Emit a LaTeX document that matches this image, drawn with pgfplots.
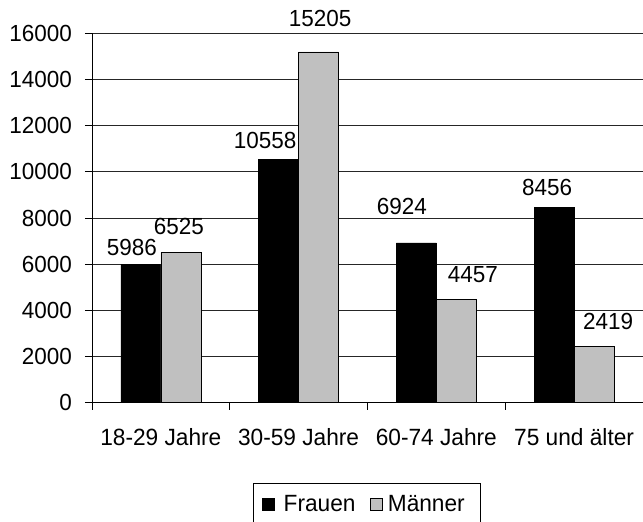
\documentclass[border=0pt]{standalone}
\usepackage{fontspec}
\setmainfont[FakeStretch=0.965]{Liberation Sans}
\usepackage{pgfplots}
\pgfplotsset{compat=1.18}
\usepackage{pgfplotstable}

\pgfplotstableread{
x y dx dy lab
0 5986 -9 16.5 5986
1 10558 -13.6 18.5 10558
2 6924 -14.4 36.5 6924
3 8456 -7 20.5 8456
}\frauen
\pgfplotstableread{
x y dx dy lab
0 6525 -2 26 6525
1 15205 1.4 33 15205
2 4457 16.6 24.7 4457
3 2419 14 25 2419
}\maenner

\newcommand{\numfont}{\fontsize{23.3}{28}\selectfont}
\newcommand{\txtfont}{\fontsize{23.5}{28}\selectfont}

\begin{document}
\begin{tikzpicture}[font=\numfont]
\useasboundingbox (0,0) rectangle (643pt,522pt);
\begin{axis}[
  at={(92pt,119.5pt)}, anchor=south west,
  scale only axis, width=551pt, height=369pt,
  ybar=0pt, bar width=40pt,
  xmin=-0.5, xmax=3.5, ymin=0, ymax=16000,
  ytick={0,2000,...,16000},
  scaled y ticks=false,
  /pgf/number format/1000 sep={},
  /pgf/number format/assume math mode=true,
  axis x line*=bottom, axis y line*=left,
  axis line style={line width=0.8pt, black, -},
  ymajorgrids, grid style={line width=0.8pt, black!85},
  tick align=outside,
  major tick length=7pt,
  tick style={line width=0.8pt, black},
  xtick={-0.5,0.5,1.5,2.5}, xticklabels={},
  extra x ticks={0,1,2,3},
  extra x tick labels={18-29 Jahre,30-59 Jahre,60-74 Jahre,75 und älter},
  extra x tick style={major tick length=0pt,
     xticklabel style={font=\txtfont, anchor=north, inner sep=0pt, yshift=-26pt}},
  yticklabel style={font=\numfont, anchor=east, inner sep=0pt, xshift=-13pt},
  clip=false,
  legend columns=2,
  legend style={at={(0.2917,-0.2173)}, anchor=north west, draw=black,
     line width=0.8pt, font=\txtfont, inner xsep=9.3pt, inner ysep=12pt,
     nodes={inner sep=0pt},
     /tikz/column sep=0pt,
     /tikz/every even column/.append style={column sep=14.7pt}},
]
\addplot[fill=black, draw=black, line width=0.6pt,
  nodes near coords, point meta=explicit symbolic,
  visualization depends on={\thisrow{dx} \as \dx},
  visualization depends on={\thisrow{dy} \as \dy},
  every node near coord/.append style={font=\numfont, anchor=center, inner sep=0pt, xshift=\dx pt, yshift=\dy pt},
  legend image code/.code={\path[draw=none, fill=none] (0pt,-6pt) rectangle (21pt,6pt);
     \draw[fill=black, draw=black, line width=0.6pt] (0pt,-6pt) rectangle (12pt,6pt);}]
  table[x=x, y=y, meta=lab] {\frauen};
\addplot[fill={rgb,255:red,192;green,192;blue,192}, draw=black, line width=0.6pt,
  nodes near coords, point meta=explicit symbolic,
  visualization depends on={\thisrow{dx} \as \dx},
  visualization depends on={\thisrow{dy} \as \dy},
  every node near coord/.append style={font=\numfont, anchor=center, inner sep=0pt, xshift=\dx pt, yshift=\dy pt},
  legend image code/.code={\path[draw=none, fill=none] (0pt,-6pt) rectangle (17.3pt,6pt);
     \draw[fill={rgb,255:red,192;green,192;blue,192}, draw=black, line width=0.6pt] (0pt,-6pt) rectangle (12pt,6pt);}]
  table[x=x, y=y, meta=lab] {\maenner};
\legend{Frauen,Männer\hspace*{6pt}}
\end{axis}
\end{tikzpicture}
\end{document}
